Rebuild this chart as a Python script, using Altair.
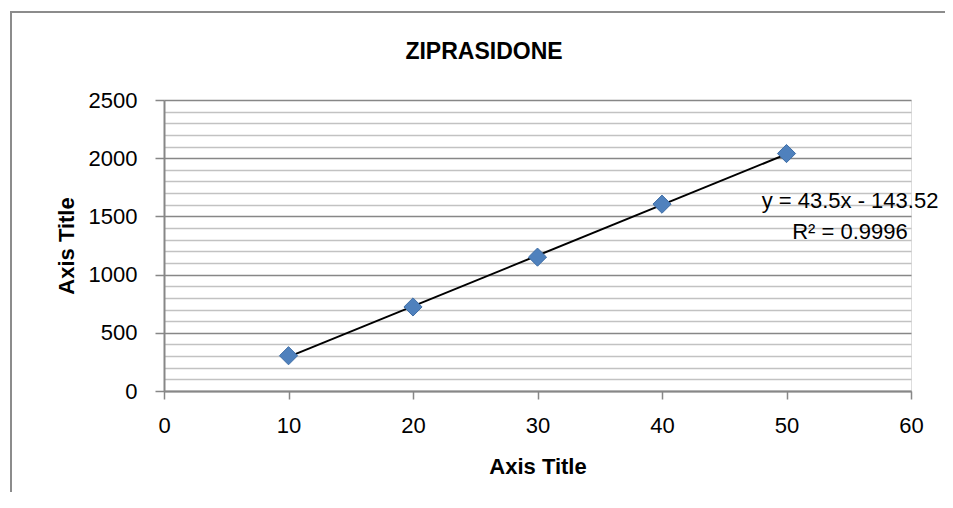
import altair as alt
import pandas as pd

# ---- data ----
concentration = [10, 20, 30, 40, 50]
response = [303, 722, 1150, 1605, 2040]
chart_title = "ZIPRASIDONE"
x_title = "Axis Title"
y_title = "Axis Title"
equation_text = "y = 43.5x - 143.52"
r2_text = "R² = 0.9996"
x_ticks = [0, 10, 20, 30, 40, 50, 60]
y_ticks = list(range(0, 2501, 100))

df = pd.DataFrame({"x": concentration, "y": response})
one = pd.DataFrame({"a": [0]})

FONT = "Liberation Sans"
W, H = 747, 291
PAD_L, PAD_T, PAD_R, PAD_B = 156, 92, 34, 101
MAJOR = "#878787"
MINOR = "#c2c2c2"
FRAME = "#8c8c8c"

x_enc = alt.X(
    "x:Q",
    scale=alt.Scale(domain=[0, 60], nice=False, zero=False),
    axis=alt.Axis(
        values=x_ticks, title=x_title, grid=False, format="d",
        domainColor=MAJOR, domainWidth=2,
        tickColor=MAJOR, tickSize=8, tickWidth=1.5,
        labelFont=FONT, labelFontSize=22, labelColor="black",
        labelPadding=16, labelFlush=False, labelOverlap=False,
        titleFont=FONT, titleFontSize=22, titleFontWeight="bold", titleColor="black",
        titleBaseline="alphabetic", titleY=82,
    ),
)
y_enc = alt.Y(
    "y:Q",
    scale=alt.Scale(domain=[0, 2500], nice=False),
    axis=alt.Axis(
        values=y_ticks, title=y_title, format="d",
        labelExpr="datum.value % 500 === 0 ? datum.label : ''",
        labelOverlap=False,
        grid=True,
        gridColor={"condition": {"test": "datum.value % 500 === 0", "value": MAJOR}, "value": MINOR},
        gridWidth=1.5,
        domainColor=MAJOR, domainWidth=2,
        tickColor={"condition": {"test": "datum.value % 500 === 0", "value": MAJOR}, "value": "transparent"},
        tickSize=9, tickWidth=1.5,
        labelFont=FONT, labelFontSize=22, labelColor="black", labelPadding=18,
        titleFont=FONT, titleFontSize=22, titleFontWeight="bold", titleColor="black",
        titleBaseline="alphabetic", titleX=-91,
    ),
)

# chart-area frame: left and top edges only (the right/bottom lie off the page)
frame_left = alt.Chart(one).mark_rect(color=FRAME, strokeWidth=0).encode(
    x=alt.value(-154), x2=alt.value(-152), y=alt.value(-89), y2=alt.value(H + PAD_B)
)
frame_top = alt.Chart(one).mark_rect(color=FRAME, strokeWidth=0).encode(
    x=alt.value(-154), x2=alt.value(W + PAD_R), y=alt.value(-89), y2=alt.value(-87)
)

points = alt.Chart(df).mark_point(
    shape="diamond", filled=True, size=330, color="#4F81BD",
    stroke="#3F6EA6", strokeWidth=1, opacity=1,
).encode(x=x_enc, y=y_enc)

trend = alt.Chart(df).transform_regression("x", "y", extent=[10, 50]).mark_line(
    color="black", strokeWidth=2
).encode(x=x_enc, y=y_enc)

title_mark = alt.Chart(one).mark_text(
    text=chart_title, font=FONT, fontSize=23, fontWeight="bold", color="black",
    align="center", baseline="alphabetic",
).encode(x=alt.value(320), y=alt.value(-41))

eq = alt.Chart(one).mark_text(
    text=equation_text, font=FONT, fontSize=22, color="black",
    align="center", baseline="alphabetic",
).encode(x=alt.value(686), y=alt.value(108))

r2 = alt.Chart(one).mark_text(
    text=r2_text, font=FONT, fontSize=22, color="black",
    align="center", baseline="alphabetic",
).encode(x=alt.value(686), y=alt.value(139))

chart = alt.layer(frame_left, frame_top, trend, points, title_mark, eq, r2).properties(
    width=W, height=H,
    autosize=alt.AutoSizeParams(type="none"),
    padding={"left": PAD_L, "top": PAD_T, "right": PAD_R, "bottom": PAD_B},
).configure_view(strokeWidth=0).configure(background="white")

chart.save("out.html", embed_options={"renderer": "svg", "actions": False})
